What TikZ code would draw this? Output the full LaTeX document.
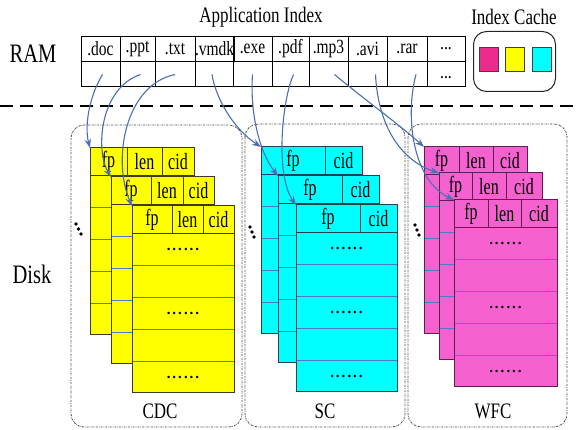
\documentclass[tikz,border=0pt]{standalone}
\usepackage{fontspec}
\setmainfont{Liberation Serif}
\usepackage{graphicx}
\usetikzlibrary{arrows.meta}

\definecolor{cdcyellow}{HTML}{FFFF00}
\definecolor{sccyan}{HTML}{00FFFF}
\definecolor{wfcpink}{HTML}{F562D0}
\definecolor{cachemag}{HTML}{EE2A8C}
\definecolor{yedge}{HTML}{3C3C20}
\definecolor{cedge}{HTML}{1E4448}
\definecolor{pedge}{HTML}{5E1E52}
\definecolor{rowblue}{HTML}{5078C8}
\definecolor{ptrblue}{HTML}{4A6FB5}
\definecolor{grpgray}{HTML}{4A4A4A}

% text in this figure is set slightly tall
\newcommand\tallbox[1]{\scalebox{1}[1.3]{#1}}
\newcommand\tallerbox[1]{\scalebox{1}[1.45]{#1}}

% one index layer: #1 name, #2 left, #3 top, #4 right, #5 fill, #6 edge,
% #7 header cells as {right/label,...}
\newcommand\cachelayer[7]{%
  \node[bodybox, fill=#5, draw=#6, minimum width={(#4-#2)*1pt}, anchor=north west] (#1b) at (#2,#3+28) {};
  \foreach \k in {1,...,4}
    \draw[rowline] ([yshift={-\k*31.8pt}, xshift=0.5pt]#1b.north west) -- ([yshift={-\k*31.8pt}, xshift=-0.5pt]#1b.north east);
  \foreach \r/\lab [count=\i, remember=\r as \l (initially #2)] in {#7}
    \node[hdrcell, fill=#5, draw=#6, minimum width={(\r-\l)*1pt}, anchor=north west] (#1h\i) at (\l,#3) {\tallerbox{\lab}};
}
% dotted entries of the front layer
\newcommand\rowdots[1]{%
  \foreach \k in {1,3,5}
    \node[dotsty] (#1d\k) at ([yshift={-(\k-0.5)*31.8pt}]#1b.north) {.\kern2pt.\kern2pt.\kern2pt.\kern2pt.\kern2pt.};
}

\begin{document}
\begin{tikzpicture}[x=1pt,y=-1pt,
  cellbox/.style={draw=black, line width=0.8pt, inner sep=0pt, outer sep=0pt, minimum height=25pt,
    font=\fontsize{15.5}{17}\selectfont},
  hdrcell/.style={line width=1pt, inner sep=0pt, outer sep=0pt, minimum height=28pt,
    font=\fontsize{16}{18}\selectfont},
  bodybox/.style={line width=1pt, inner sep=0pt, outer sep=0pt, minimum height=159pt},
  rowline/.style={draw=rowblue, line width=0.9pt},
  dotsty/.style={inner sep=0pt, font=\fontsize{15}{15}\selectfont\bfseries},
  grpbox/.style={draw=grpgray, line width=0.8pt, rounded corners=13pt,
    dash pattern=on 2pt off 1pt on 0.6pt off 1pt},
  grplabel/.style={inner sep=0pt, font=\fontsize{17}{19}\selectfont},
  bigtext/.style={inner sep=0pt, font=\fontsize{20.5}{22}\selectfont},
  headtext/.style={inner sep=0pt, font=\fontsize{17}{19}\selectfont},
  sq/.style={draw=black!75, line width=0.8pt, minimum width=19pt, minimum height=24pt, inner sep=0pt},
  ptr/.style={draw=ptrblue, line width=1.1pt, -{Stealth[length=9pt,width=6.5pt]}},
  sep/.style={line width=2.6pt, dash pattern=on 13pt off 7pt}
]
\useasboundingbox (0,0) rectangle (579,430);

% side labels and titles
\node[bigtext] (ram) at (33,54) {\tallbox{RAM}};
\node[bigtext] (disk) at (32,274) {\tallbox{Disk}};
\node[headtext] (apptitle) at (261,17) {\tallbox{Application Index}};
\node[headtext] (cachetitle) at (514,17) {\tallbox{Index Cache}};

% application index table
\foreach \l/\r/\lab [count=\i] in {81/120/.doc,120/155/.ppt,155/195/.txt,195/233/.vmdk,
    233/272/.exe,272/309/.pdf,309/348/.mp3,348/387/.avi,387/427/.rar}{
  \node[cellbox, minimum width={(\r-\l)*1pt}, anchor=north west] (ext\i) at (\l,36) {\tallbox{\lab}};
  \node[cellbox, minimum width={(\r-\l)*1pt}, anchor=north west] (slot\i) at (\l,61) {};
}
\node[cellbox, minimum width=38pt, anchor=north west] (ext10) at (427,36) {\tallbox{...}};
\node[cellbox, minimum width=38pt, anchor=north west] (slot10) at (427,61) {};
\node[inner sep=0pt, font=\fontsize{15.5}{17}\selectfont] (slotdots) at ([yshift=-4pt]slot10.center) {\tallbox{...}};

% index cache
\node[draw=black!85, line width=1pt, rounded corners=13pt, minimum width=82pt, minimum height=60pt,
  inner sep=0pt, anchor=north west] (cache) at (473,31) {};
\node[sq, fill=cachemag] (sqm) at (488.5,59) {};
\node[sq, fill=cdcyellow] (sqy) at (515,59) {};
\node[sq, fill=sccyan] (sqc) at (541.5,59) {};

% RAM / disk separator
\draw[sep] (0,106) -- (579,106);

% container groups
\draw[grpbox] (71,125) rectangle (242,427);
\draw[grpbox] (245,124) rectangle (405,427);
\draw[grpbox] (408,124) rectangle (567,427);
\node[grplabel] (cdclab) at (160,411) {\tallbox{CDC}};
\node[grplabel] (sclab) at (325,411) {\tallbox{SC}};
\node[grplabel] (wfclab) at (493,411) {\tallbox{WFC}};

% CDC layers
\cachelayer{cdcA}{90}{148}{194}{cdcyellow}{yedge}{127/fp,162/len,194/cid}
\cachelayer{cdcB}{111}{177}{214}{cdcyellow}{yedge}{151/fp,183/len,214/cid}
\cachelayer{cdcC}{132}{206}{234}{cdcyellow}{yedge}{172/fp,203/len,234/cid}
\rowdots{cdcC}

% SC layers
\cachelayer{scA}{261}{147}{362}{sccyan}{cedge}{325/fp,362/cid}
\cachelayer{scB}{278}{176}{379}{sccyan}{cedge}{342/fp,379/cid}
\cachelayer{scC}{296}{205}{397}{sccyan}{cedge}{360/fp,397/cid}
\rowdots{scC}

% WFC layers
\cachelayer{wfcA}{424}{147}{527}{wfcpink}{pedge}{459/fp,493/len,527/cid}
\cachelayer{wfcB}{439}{173}{542}{wfcpink}{pedge}{472/fp,506/len,542/cid}
\cachelayer{wfcC}{454}{200}{557}{wfcpink}{pedge}{488/fp,521/len,557/cid}
\rowdots{wfcC}

% more layers behind
\foreach \x/\y in {76/224,78.5/229,81/234,250/227,252/232,254/237,415/225,417/230,419/235}
  \fill (\x,\y) circle (1.9pt);

% pointers from the application index to the layers
\draw[ptr] ([xshift=2pt,yshift=-1pt]slot1.center) .. controls (90,95) and (84,125) .. (cdcAh1.north west);
\draw[ptr] ([xshift=3pt,yshift=-1pt]slot2.center) .. controls (100,88) and (95,150) .. (cdcBh1.north west);
\draw[ptr] ([yshift=-1pt]slot3.center) .. controls (125,85) and (112,160) .. (cdcCh1.north west);
\draw[ptr] ([xshift=-2pt,yshift=-1pt]slot4.center) .. controls (216,100) and (235,130) .. (scAh1.north west);
\draw[ptr] ([yshift=-1pt]slot5.center) .. controls (250,110) and (258,150) .. (scBh1.north west);
\draw[ptr] ([xshift=3pt,yshift=-1pt]slot6.center) .. controls (282,100) and (275,175) .. (scCh1.north west);
\draw[ptr] ([xshift=6pt,yshift=-1pt]slot7.center) .. controls (365,100) and (400,125) .. (wfcAh1.north west);
\draw[ptr] ([xshift=8pt,yshift=-1pt]slot8.center) .. controls (378,125) and (400,160) .. (wfcBh1.north west);
\draw[ptr] ([xshift=9pt,yshift=-1pt]slot9.center) .. controls (405,115) and (412,180) .. (wfcCh1.north west);
\end{tikzpicture}
\end{document}
